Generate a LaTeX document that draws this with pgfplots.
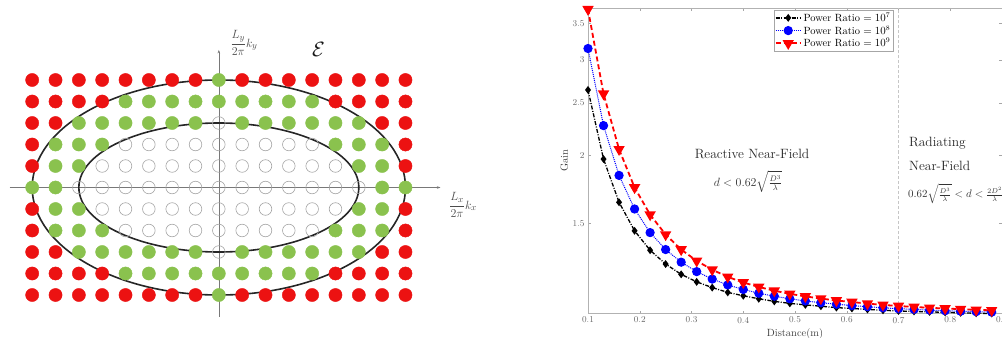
\documentclass[border=0pt]{standalone}
\usepackage{amsmath}
\usepackage{pgfplots}
\pgfplotsset{compat=1.18}
\usetikzlibrary{arrows.meta}
\definecolor{dotred}{RGB}{236,18,18}
\definecolor{dotgreen}{RGB}{138,194,78}
\definecolor{opengray}{RGB}{165,165,165}
\definecolor{axgray}{RGB}{120,120,120}
\begin{document}
\begin{tikzpicture}[x=1bp,y=1bp]
% ---------------- left panel ----------------
\begin{axis}[
  at={(4.2bp,9.75bp)}, anchor=south west,
  x=23.33bp, y=21.5bp,
  xmin=-9.2, xmax=10, ymin=-6.5, ymax=7,
  hide axis, clip=false,
]
\addplot[only marks, mark=*, mark size=6.6bp, color=dotred, mark options={draw=dotred, fill=dotred}] coordinates {
(-8,5)(-7,5)(-6,5)(-5,5)(-4,5)(-3,5)(-2,5)(-1,5)(1,5)(2,5)(3,5)(4,5)(5,5)(6,5)(7,5)(8,5)
(-8,-5)(-7,-5)(-6,-5)(-5,-5)(-4,-5)(-3,-5)(-2,-5)(-1,-5)(1,-5)(2,-5)(3,-5)(4,-5)(5,-5)(6,-5)(7,-5)(8,-5)
(-8,4)(-7,4)(-6,4)(-5,4)(5,4)(6,4)(7,4)(8,4)
(-8,-4)(-7,-4)(-6,-4)(-5,-4)(5,-4)(6,-4)(7,-4)(8,-4)
(-8,3)(-7,3)(7,3)(8,3)(-8,-3)(-7,-3)(7,-3)(8,-3)
(-8,2)(8,2)(-8,-2)(8,-2)(-8,1)(8,1)(-8,-1)(8,-1)
};
\addplot[only marks, mark=*, mark size=6.6bp, color=dotgreen, mark options={draw=dotgreen, fill=dotgreen}] coordinates {
(0,5)(0,-5)
(-4,4)(-3,4)(-2,4)(-1,4)(0,4)(1,4)(2,4)(3,4)(4,4)
(-4,-4)(-3,-4)(-2,-4)(-1,-4)(0,-4)(1,-4)(2,-4)(3,-4)(4,-4)
(-6,3)(-5,3)(-4,3)(-3,3)(-2,3)(-1,3)(1,3)(2,3)(3,3)(4,3)(5,3)(6,3)
(-6,-3)(-5,-3)(-4,-3)(-3,-3)(-2,-3)(-1,-3)(1,-3)(2,-3)(3,-3)(4,-3)(5,-3)(6,-3)
(-7,2)(-6,2)(-5,2)(5,2)(6,2)(7,2)(-7,-2)(-6,-2)(-5,-2)(5,-2)(6,-2)(7,-2)
(-7,1)(-6,1)(6,1)(7,1)(-7,-1)(-6,-1)(6,-1)(7,-1)
(-8,0)(-7,0)(7,0)(8,0)
};
\addplot[only marks, mark=o, mark size=6.3bp, color=opengray, mark options={draw=opengray, line width=0.6bp}] coordinates {
(0,3)(0,-3)
(-4,2)(-3,2)(-2,2)(-1,2)(0,2)(1,2)(2,2)(3,2)(4,2)
(-4,-2)(-3,-2)(-2,-2)(-1,-2)(0,-2)(1,-2)(2,-2)(3,-2)(4,-2)
(-5,1)(-4,1)(-3,1)(-2,1)(-1,1)(0,1)(1,1)(2,1)(3,1)(4,1)(5,1)
(-5,-1)(-4,-1)(-3,-1)(-2,-1)(-1,-1)(0,-1)(1,-1)(2,-1)(3,-1)(4,-1)(5,-1)
(-6,0)(-5,0)(-4,0)(-3,0)(-2,0)(-1,0)(0,0)(1,0)(2,0)(3,0)(4,0)(5,0)(6,0)
};
\draw[axgray, line width=0.6bp, -{Stealth[length=3.5bp,width=2.5bp]}] (axis cs:-8.97,0) -- (axis cs:9.5,0);
\draw[axgray, line width=0.6bp, -{Stealth[length=3.5bp,width=2.5bp]}] (axis cs:0,-6.02) -- (axis cs:0,6.4);
\draw[black!85, line width=1.6bp] (axis cs:0,0) ellipse [x radius=8, y radius=5];
\draw[black!85, line width=1.6bp] (axis cs:0,0) ellipse [x radius=6, y radius=3];
\end{axis}
\node[text=black!70, font=\fontsize{13}{15}\selectfont] at (244,294) {$\displaystyle\frac{L_y}{2\pi}k_y$};
\node[text=black!90, font=\fontsize{21}{22}\selectfont] at (318.5,288) {$\mathcal{E}$};
\node[text=black!70, font=\fontsize{13}{15}\selectfont] at (463,132) {$\displaystyle\frac{L_x}{2\pi}k_x$};
% ---------------- right panel ----------------
\begin{axis}[
  at={(588bp,23.5bp)}, anchor=south west,
  scale only axis, width=414bp, height=305.5bp,
  xmin=0.1, xmax=0.9,
  ymode=log, ymin=1.025, ymax=3.74,
  xtick={0.1,0.2,0.3,0.4,0.5,0.6,0.7,0.8,0.9},
  xticklabels={0.1,0.2,0.3,0.4,0.5,0.6,0.7,0.8,0.9},
  ytick={1.5,2,2.5,3,3.5},
  yticklabels={1.5,2,2.5,3,3.5},
  yminorticks=false,
  tick pos=both, tick align=inside, major tick length=3bp,
  axis line style={gray!60, line width=0.5bp},
  tick style={gray!70, line width=0.5bp},
  ticklabel style={text=black!60, font=\fontsize{9}{10}\selectfont},
  xlabel={Distance(m)}, ylabel={Gain},
  label style={text=black!75, font=\fontsize{10.5}{12}\selectfont},
  xlabel style={at={(axis description cs:0.5,-0.066)}, anchor=center},
  ylabel style={at={(axis description cs:-0.057,0.5)}, anchor=center},
  clip=false,
  legend style={at={(axis description cs:0.737,0.993)}, anchor=north east,
    font=\fontsize{10.5}{12}\selectfont, draw=gray!70, line width=0.5bp,
    inner sep=0.5bp, row sep=-1.2bp, fill=white},
  legend cell align=left,
  legend image code/.code={\draw[mark repeat=2,mark phase=2] plot coordinates {(0bp,0bp) (12.5bp,0bp) (25bp,0bp)};},
]
\addplot[black, line width=1.3bp, dash pattern=on 4bp off 1.5bp on 1bp off 1.5bp, mark=diamond*, mark size=2.9bp, mark options={solid, fill=black}] coordinates {
(0.10,2.643)(0.13,1.972)(0.16,1.642)(0.19,1.455)(0.22,1.340)(0.25,1.264)(0.28,1.210)
(0.31,1.172)(0.34,1.144)(0.37,1.121)(0.40,1.105)(0.43,1.091)(0.46,1.079)(0.49,1.070)
(0.52,1.063)(0.55,1.057)(0.58,1.051)(0.61,1.047)(0.64,1.043)(0.67,1.039)(0.70,1.036)
(0.73,1.034)(0.76,1.032)(0.79,1.030)(0.82,1.028)(0.85,1.026)(0.88,1.025)
};
\addlegendentry{Power Ratio $=10^7$}
\addplot[blue, line width=1bp, densely dotted, mark=*, mark size=4.1bp, mark options={solid, fill=blue}] coordinates {
(0.10,3.150)(0.13,2.272)(0.16,1.840)(0.19,1.596)(0.22,1.444)(0.25,1.344)(0.28,1.274)
(0.31,1.224)(0.34,1.186)(0.37,1.157)(0.40,1.135)(0.43,1.117)(0.46,1.103)(0.49,1.091)
(0.52,1.081)(0.55,1.073)(0.58,1.066)(0.61,1.060)(0.64,1.055)(0.67,1.050)(0.70,1.046)
(0.73,1.043)(0.76,1.040)(0.79,1.037)(0.82,1.035)(0.85,1.033)(0.88,1.031)
};
\addlegendentry{Power Ratio $=10^8$}
\addplot[red, line width=1.8bp, dash pattern=on 5bp off 3bp, mark=triangle*, mark size=4.8bp, mark options={solid, fill=red, rotate=180}] coordinates {
(0.10,3.720)(0.13,2.600)(0.16,2.055)(0.19,1.748)(0.22,1.558)(0.25,1.432)(0.28,1.344)
(0.31,1.281)(0.34,1.234)(0.37,1.197)(0.40,1.169)(0.43,1.147)(0.46,1.129)(0.49,1.114)
(0.52,1.102)(0.55,1.092)(0.58,1.083)(0.61,1.076)(0.64,1.069)(0.67,1.063)(0.70,1.058)
(0.73,1.054)(0.76,1.050)(0.79,1.047)(0.82,1.044)(0.85,1.041)(0.88,1.039)
};
\addlegendentry{Power Ratio $=10^9$}
\draw[gray!45, line width=0.6bp, dash pattern=on 3bp off 2bp] ({axis cs:0.7,1.5}|-{rel axis cs:0,0}) -- ({axis cs:0.7,1.5}|-{rel axis cs:0,1});
\end{axis}
\node[text=black!85, font=\fontsize{13.5}{15}\selectfont] at (752,183) {Reactive Near-Field};
\node[text=black!80, font=\fontsize{12}{14}\selectfont] at (748,155) {$d<0.62\sqrt{\frac{D^3}{\lambda}}$};
\node[text=black!85, font=\fontsize{13.5}{15}\selectfont, anchor=west, inner sep=0pt] at (909,194) {Radiating};
\node[text=black!85, font=\fontsize{13.5}{15}\selectfont, anchor=west, inner sep=0pt] at (909,171) {Near-Field};
\node[text=black!80, font=\fontsize{10.5}{12}\selectfont, anchor=west, inner sep=0pt] at (908,143) {$0.62\sqrt{\frac{D^3}{\lambda}}<d<\frac{2D^2}{\lambda}$};
\pgfresetboundingbox
\path[use as bounding box] (0,0) rectangle (1002,337);
\end{tikzpicture}
\end{document}
